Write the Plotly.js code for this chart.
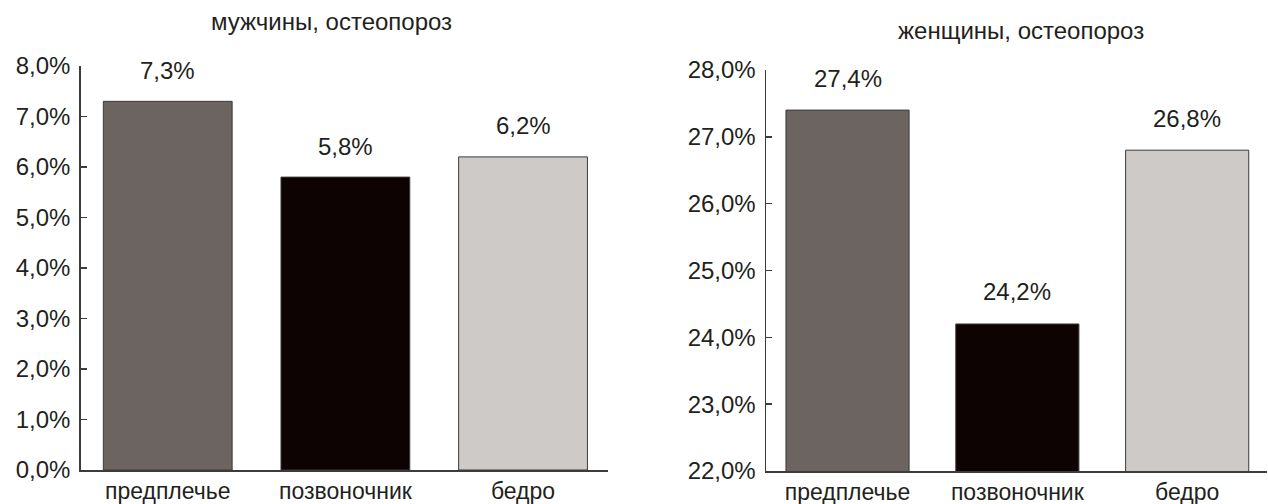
<!DOCTYPE html>
<html>
<head>
<meta charset="utf-8">
<script src="https://cdn.plot.ly/plotly-3.0.1.min.js"></script>
<style>
  html, body { margin: 0; padding: 0; background: #fff; }
  #chart { width: 1268px; height: 504px; }
</style>
</head>
<body>
<div id="chart"></div>
<script>
// Osteoporosis prevalence by measurement site
const sites = ['предплечье', 'позвоночник', 'бедро'];
const menValues = [7.3, 5.8, 6.2];
const womenValues = [27.4, 24.2, 26.8];
const menTitle = 'мужчины, остеопороз';
const womenTitle = 'женщины, остеопороз';
const menTickVals = [0, 1, 2, 3, 4, 5, 6, 7, 8];
const womenTickVals = [22, 23, 24, 25, 26, 27, 28];
const barColors = ['#6b6461', '#0d0302', '#cecac7'];

const fmt = v => v.toFixed(1).replace('.', ',') + '%';

const font = 'Liberation Sans, Arial, sans-serif';
const ink = '#231f20';
const axisColor = '#3c3c3c';

const W = 1268, H = 504;
const px = v => v / W;
const py = v => 1 - v / H;

const traces = [
  {
    type: 'bar', x: sites, y: menValues, xaxis: 'x', yaxis: 'y',
    marker: { color: barColors, line: { color: '#3a3a3a', width: 1 } },
    hoverinfo: 'none', showlegend: false
  },
  {
    type: 'bar', x: sites, y: womenValues, xaxis: 'x2', yaxis: 'y2',
    base: 0,
    marker: { color: barColors, line: { color: '#3a3a3a', width: 1 } },
    hoverinfo: 'none', showlegend: false
  }
];

const annotations = [];
sites.forEach((s, i) => {
  annotations.push({ xref: 'x', yref: 'y', x: s, y: menValues[i], text: fmt(menValues[i]),
    showarrow: false, yanchor: 'middle', yshift: 31, font: { family: font, size: 24, color: ink } });
  annotations.push({ xref: 'x2', yref: 'y2', x: s, y: womenValues[i], text: fmt(womenValues[i]),
    showarrow: false, yanchor: 'middle', yshift: 32, font: { family: font, size: 24, color: ink } });
});
annotations.push({ xref: 'paper', yref: 'paper', x: px(331), y: py(22), text: menTitle,
  showarrow: false, xanchor: 'center', yanchor: 'middle', font: { family: font, size: 24, color: ink } });
annotations.push({ xref: 'paper', yref: 'paper', x: px(1021), y: py(30), text: womenTitle,
  showarrow: false, xanchor: 'center', yanchor: 'middle', font: { family: font, size: 24, color: ink } });

const xCommon = {
  type: 'category', showline: true, linecolor: axisColor, linewidth: 1.5,
  ticks: '', showgrid: false, zeroline: false, fixedrange: true,
  tickfont: { family: font, size: 23, color: ink }
};
const yCommon = {
  showline: true, linecolor: axisColor, linewidth: 1.5,
  ticks: 'inside', ticklen: 6, tickcolor: axisColor, tickwidth: 1.5,
  ticklabelstandoff: 4,
  showgrid: false, zeroline: false, fixedrange: true,
  tickfont: { family: font, size: 24, color: ink }
};

const layout = {
  width: W, height: H,
  margin: { l: 0, r: 0, t: 0, b: 0 },
  paper_bgcolor: '#fff', plot_bgcolor: '#fff',
  bargap: 0.275,
  showlegend: false,
  xaxis: Object.assign({}, xCommon, { domain: [px(80.7), px(608.3)], range: [-0.49, 2.48], anchor: 'y' }),
  yaxis: Object.assign({}, yCommon, { domain: [py(470), py(66)], range: [0, 8], anchor: 'x',
    tickvals: menTickVals, ticktext: menTickVals.map(fmt) }),
  xaxis2: Object.assign({}, xCommon, { domain: [px(766), px(1267)], range: [-0.48, 2.47], anchor: 'y2' }),
  yaxis2: Object.assign({}, yCommon, { domain: [py(471), py(70)], range: [22, 28], anchor: 'x2',
    tickvals: womenTickVals, ticktext: womenTickVals.map(fmt) }),
  annotations: annotations
};

Plotly.newPlot('chart', traces, layout, { staticPlot: true, displayModeBar: false });
</script>
</body>
</html>
